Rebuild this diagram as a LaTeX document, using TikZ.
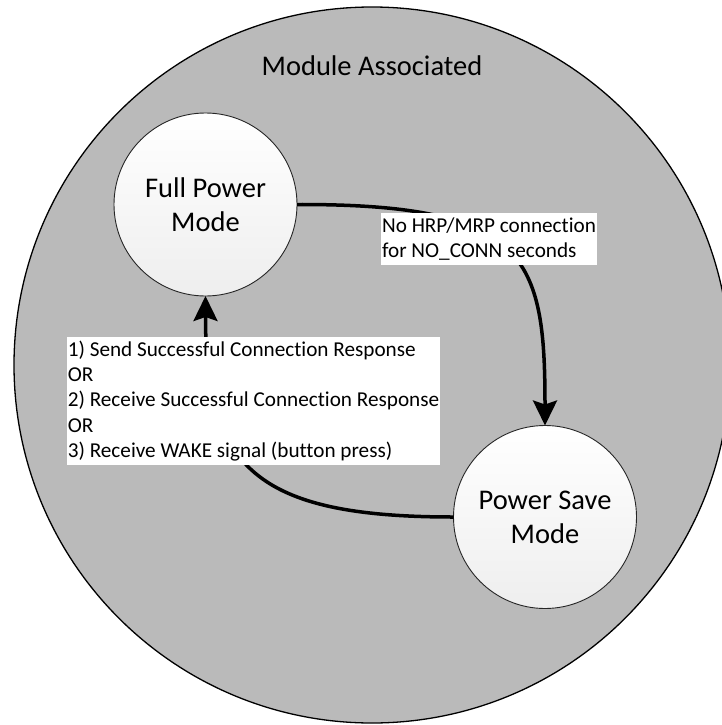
\documentclass[tikz,border=0pt]{standalone}
\usepackage{fontspec}
\setmainfont{Carlito}[Ligatures=NoCommon]
\usetikzlibrary{arrows.meta}
\definecolor{regionfill}{RGB}{186,186,186}
\definecolor{statebottom}{RGB}{238,238,238}
\begin{document}
\begin{tikzpicture}[x=1pt,y=-1pt,
  region/.style={circle, draw=black, line width=1.3pt, fill=regionfill,
    minimum size=716pt, inner sep=0pt, outer sep=0pt},
  state/.style={circle, draw=black!85, line width=0.9pt, top color=white,
    bottom color=statebottom, minimum size=183pt, inner sep=0pt, outer sep=0pt,
    align=center, font=\fontsize{28.5}{34}\selectfont},
  cond/.style={fill=white, align=left, inner xsep=1pt, inner ysep=0pt,
    font=\fontsize{21.2}{25.3}\selectfont},
  trans/.style={line width=3.5pt, -{Stealth[length=25pt,width=24pt,inset=4pt]}},
]
\useasboundingbox (0,0) rectangle (722,725);
\clip (0,0) rectangle (722,725);

% enclosing super-state
\node[region] (assoc) at (372,365) {};
\node[font=\fontsize{28.5}{34}\selectfont, anchor=base] (title) at (372,75) {Module Associated};

% states
\node[state] (full) at (205.5,204.5) {Full Power\\Mode};
\node[state] (save) at (545,517) {Power Save\\Mode};

% transitions
\draw[trans] (full.east) .. controls (527,204) and (545,256) .. (save.north);
\draw[trans] (save.west) .. controls (254,517) and (205.5,466) .. (full.south);

% transition conditions
\node[cond, minimum height=52pt] (nocon) at (489,239)
  {No HRP/MRP connection\\for NO\_CONN seconds};
\node[cond, minimum height=128pt] (wake) at (253.5,401)
  {1) Send Successful Connection Response\\OR\\2) Receive Successful Connection Response\\OR\\3) Receive WAKE signal (button press)};
\end{tikzpicture}
\end{document}
